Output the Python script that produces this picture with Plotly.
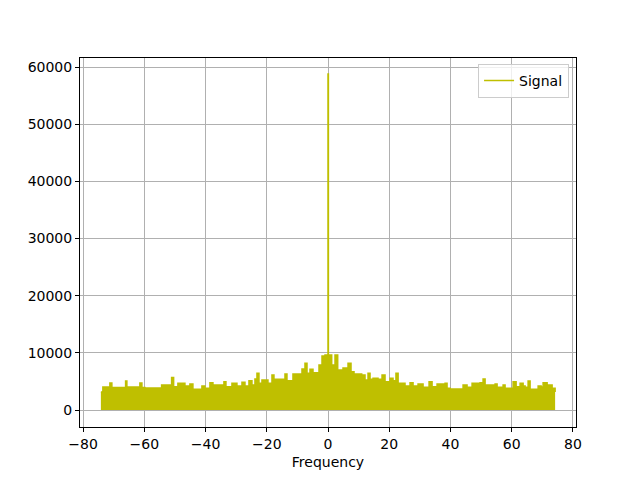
import plotly.graph_objects as go

# Envelope of the FFT magnitude spectrum
frequency = [
    -74.18, -73.53, -71.24, -70.59, -66.11, -65.69, -61.44, -60.78, -59.80, -54.35,
    -51.08, -50.42, -49.02, -46.73, -45.10, -44.12, -41.18, -40.20, -38.56, -37.58,
    -33.99, -33.33, -31.37, -29.74, -28.10, -27.12, -25.82, -24.84, -23.86, -23.20,
    -22.55, -21.57, -19.61, -18.30, -17.65, -14.05, -13.40, -11.44, -8.50, -7.52,
    -6.86, -5.88, -4.90, -2.94, -1.96, -0.98, -0.13, 0.0, 0.13, 1.21,
    2.29, 3.17, 4.90, 6.54, 7.52, 8.50, 11.01, 12.09, 13.07, 13.73,
    14.71, 16.34, 17.65, 18.63, 20.26, 21.24, 22.20, 22.90, 23.53, 25.16,
    26.80, 27.78, 29.41, 31.05, 33.01, 33.99, 35.62, 38.24, 38.89, 39.87,
    44.12, 45.42, 47.06, 49.67, 50.65, 51.31, 54.58, 55.23, 57.19, 57.84,
    60.46, 61.44, 62.75, 63.73, 64.38, 65.36, 66.01, 68.63, 69.61, 70.26,
    71.57, 73.20, 74.18,
]
magnitude = [
    3150, 4025, 4725, 3940, 5075, 4025, 4725, 3940, 3850, 4375,
    5690, 4080, 4670, 4200, 4550, 3620, 4200, 3800, 4780, 4375,
    4950, 4080, 4670, 4200, 4850, 4200, 5130, 4375, 5425, 6420,
    4670, 5250, 4670, 6125, 5370, 6300, 5130, 6300, 7175, 8170,
    6420, 7120, 6530, 7875, 9450, 9625, 9625, 58800, 9625, 7875,
    9625, 7000, 7350, 8170, 6700, 6300, 6125, 5250, 6420, 5370,
    5550, 5370, 6125, 4950, 5550, 5130, 6420, 4670, 4670, 4200,
    4780, 4200, 4550, 3970, 4950, 4080, 4550, 4670, 3800, 3675,
    4375, 3970, 4670, 4780, 5425, 4375, 4550, 3970, 4375, 3800,
    4950, 4080, 4670, 4200, 3970, 5075, 3620, 4200, 4025, 4780,
    4375, 3800, 3150,
]

x_ticks = [-80, -60, -40, -20, 0, 20, 40, 60, 80]
y_ticks = [0, 10000, 20000, 30000, 40000, 50000, 60000]

color = "#bfbf00"
font = dict(family="DejaVu Sans", size=14, color="black")

fig = go.Figure()
fig.add_trace(go.Scatter(
    x=frequency, y=magnitude, mode="lines", line=dict(color=color, width=1.5, shape="hv"),
    fill="tozeroy", fillcolor=color, showlegend=False, hoverinfo="skip",
))
fig.add_trace(go.Scatter(
    x=[None], y=[None], mode="lines", line=dict(color=color, width=1.5), name="Signal",
))

axis_common = dict(
    showline=True, linecolor="black", linewidth=1, mirror=True,
    ticks="outside", ticklen=4, tickwidth=1, tickcolor="black",
    showgrid=True, gridcolor="#b0b0b0", gridwidth=1, zeroline=False,
    tickfont=font,
)

# the page body adds an 8px offset, so the figure is 632x472 with reduced left/top margins
fig.update_layout(
    width=632, height=472,
    margin=dict(l=72, r=64, t=50, b=53),
    paper_bgcolor="white", plot_bgcolor="white",
    font=font,
    xaxis=dict(range=[-81, 81], tickvals=x_ticks, title=dict(text="Frequency", font=font, standoff=6), **axis_common),
    yaxis=dict(range=[-2975, 61600], tickvals=y_ticks, tickformat="d", **axis_common),
    legend=dict(x=0.986, y=0.984, xanchor="right", yanchor="top", bgcolor="rgba(255,255,255,0.8)",
                bordercolor="#cccccc", borderwidth=1, font=font),
)

fig.write_html("out.html")
